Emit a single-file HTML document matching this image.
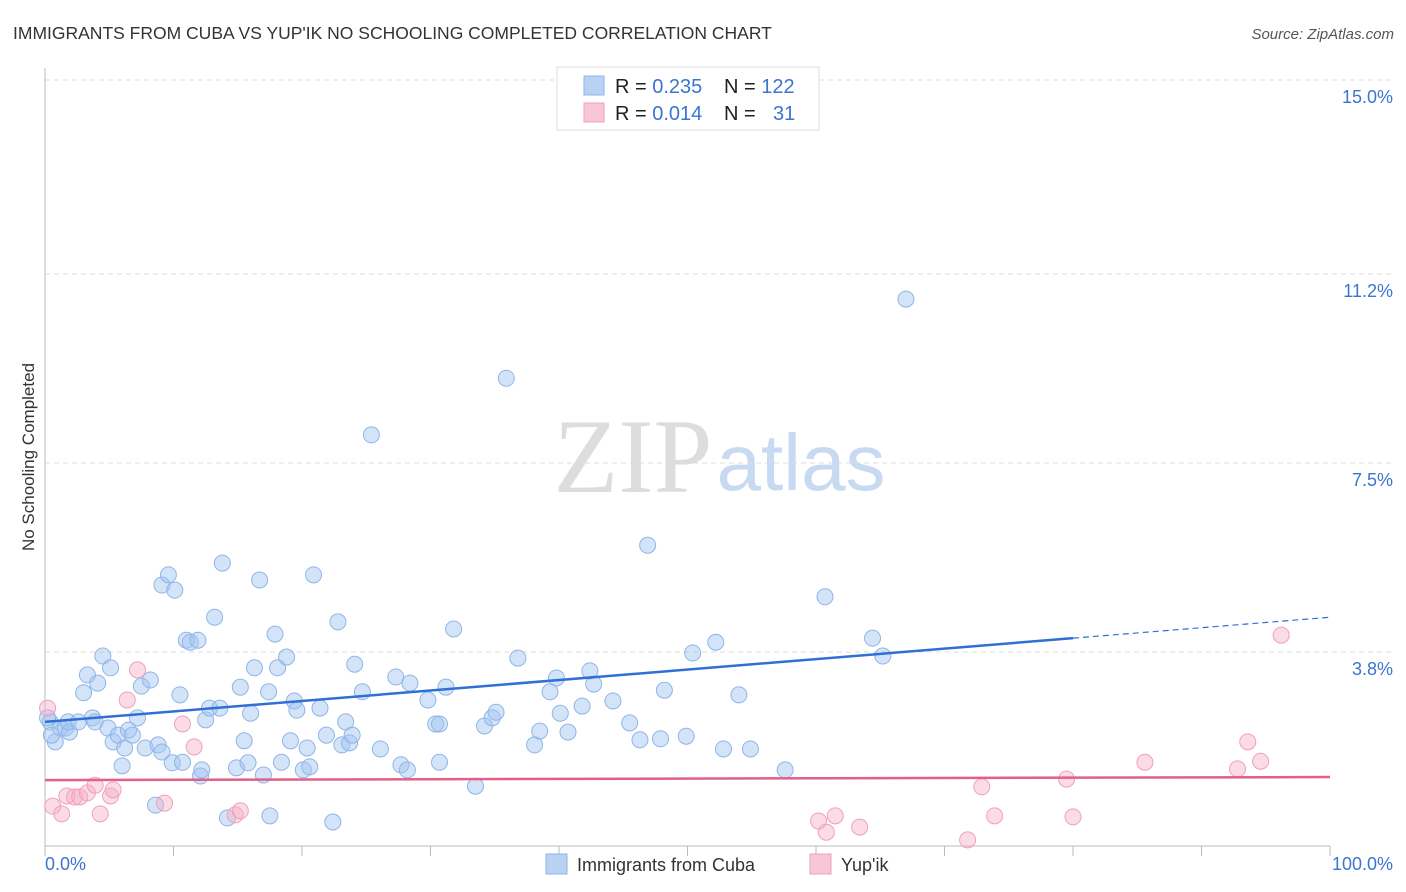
<!DOCTYPE html>
<html><head><meta charset="utf-8"><style>
body{margin:0;background:#fff;font-family:"Liberation Sans",sans-serif;}
svg{display:block}
</style></head><body>
<svg id="chart" width="1406" height="892">
<text x="13" y="39" font-size="17.5" fill="#333">IMMIGRANTS FROM CUBA VS YUP'IK NO SCHOOLING COMPLETED CORRELATION CHART</text>
<text x="1394" y="39" font-size="15" fill="#555" font-style="italic" text-anchor="end">Source: ZipAtlas.com</text>
<text transform="translate(34,457) rotate(-90)" font-size="17" fill="#333" text-anchor="middle">No Schooling Completed</text>
<g><text x="633" y="492" font-size="106" fill="#ddd" font-family="Liberation Serif,serif" text-anchor="middle">ZIP</text><text x="801" y="490" font-size="80" fill="#c8daf2" text-anchor="middle">atlas</text></g>
<g id="grid"></g><g id="axes"></g><g id="pts"></g><g id="trend"></g>
<g>
<rect x="557" y="67" width="262" height="63" fill="#fff" stroke="#ddd"/>
<rect x="584" y="76" width="20" height="19" fill="#b8d2f4" stroke="#8fb5e8"/>
<rect x="584" y="103" width="20" height="19" fill="#f8c6d4" stroke="#f0a0bb"/>
<text x="615" y="93" font-size="20" fill="#222">R = <tspan fill="#3a75d0">0.235</tspan><tspan x="724">N = </tspan><tspan fill="#3a75d0">122</tspan></text>
<text x="615" y="120" font-size="20" fill="#222">R = <tspan fill="#3a75d0">0.014</tspan><tspan x="724">N = </tspan><tspan x="773" fill="#3a75d0">31</tspan></text>
</g>
<g>
<rect x="546" y="854" width="21" height="20" fill="#b8d2f4" stroke="#8fb5e8"/>
<text x="577" y="871" font-size="18" fill="#333">Immigrants from Cuba</text>
<rect x="810" y="854" width="21" height="20" fill="#f8c6d4" stroke="#f0a0bb"/>
<text x="841" y="871" font-size="18" fill="#333">Yup'ik</text>
</g>
</svg>
<script>
const yTicks=[3.8,7.5,11.2,15.0];
const yTickLabels=["3.8%","7.5%","11.2%","15.0%"];
const xTickLabels=["0.0%","100.0%"];
const cubaX=[0.4,0.8,1.2,1.6,1.9,1.8,2.6,3.0,3.3,3.7,3.9,4.1,4.5,4.9,5.1,5.3,5.7,6.0,6.2,6.5,6.8,7.2,7.5,7.8,8.2,8.6,8.8,9.1,9.1,9.6,9.9,10.1,10.5,10.7,11.0,11.3,11.9,12.1,12.2,12.5,12.8,13.2,13.6,13.8,14.2,14.9,15.2,15.5,15.8,16.0,16.3,16.7,17.0,17.4,17.5,17.9,18.1,18.4,18.8,19.1,19.4,19.6,20.1,20.4,20.6,20.9,21.4,21.9,22.4,22.8,23.1,23.4,23.7,23.9,24.1,24.7,25.4,26.1,27.3,27.7,28.4,28.2,29.8,30.4,30.7,30.7,31.2,31.8,33.5,34.2,34.8,35.1,35.9,36.8,38.1,38.5,39.3,39.8,40.1,40.7,41.8,42.4,42.7,44.2,45.5,46.3,46.9,47.9,48.2,49.9,50.4,52.2,52.8,54.0,54.9,57.6,60.7,64.4,65.2,67.0,0.2,0.5];
const cubaY=[2.43,2.04,2.31,2.31,2.23,2.43,2.43,3.0,3.35,2.51,2.43,3.19,3.72,2.31,3.49,2.04,2.17,1.57,1.92,2.27,2.17,2.51,3.13,1.92,3.25,0.80,1.98,1.84,5.11,5.31,1.63,5.01,2.96,1.64,4.03,3.99,4.03,1.37,1.49,2.47,2.70,4.48,2.70,5.54,0.55,1.53,3.11,2.06,1.63,2.60,3.49,5.21,1.39,3.02,0.59,4.15,3.49,1.64,3.70,2.06,2.84,2.66,1.49,1.92,1.55,5.31,2.70,2.17,0.47,4.39,1.98,2.43,2.02,2.17,3.56,3.02,8.05,1.90,3.31,1.59,3.19,1.49,2.86,2.39,2.39,1.64,3.11,4.25,1.17,2.35,2.51,2.62,9.16,3.68,1.98,2.25,3.02,3.29,2.60,2.23,2.74,3.43,3.17,2.84,2.41,2.08,5.89,2.10,3.05,2.15,3.78,3.99,1.90,2.96,1.90,1.49,4.88,4.07,3.72,10.71,2.51,2.17];
const yupikX=[0.2,0.6,1.3,1.7,2.3,2.7,3.3,3.9,4.3,5.1,5.3,6.4,7.2,9.3,10.7,11.6,14.8,15.2,60.2,60.8,61.5,63.4,71.8,72.9,73.9,79.5,80.0,85.6,92.8,93.6,94.6,96.2];
const yupikY=[2.70,0.78,0.63,0.98,0.96,0.96,1.04,1.19,0.63,0.98,1.10,2.86,3.45,0.84,2.39,1.94,0.61,0.69,0.49,0.27,0.59,0.37,0.12,1.16,0.59,1.31,0.57,1.64,1.51,2.04,1.66,4.13];
const cubaTrend=[2.43,0.0205];
const yupikTrend=[1.29,0.0006];
const NS="http://www.w3.org/2000/svg";
const X0=45,X1=1330,Y0=846,Ytop=80;
const sx=v=>X0+(X1-X0)*v/100;
const sy=v=>Y0-(Y0-Ytop)*v/15;
function mk(tag,attrs,parent){const e=document.createElementNS(NS,tag);for(const k in attrs)e.setAttribute(k,attrs[k]);document.getElementById(parent).appendChild(e);return e;}
yTicks.forEach((t,i)=>{
 const g=mk('line',{x1:X0,x2:1394,y1:sy(t),y2:sy(t),stroke:'#ddd','stroke-dasharray':'5,4'},'grid');
 
 
 const l=mk('text',{x:1393,y:sy(t)+23,'font-size':18,fill:'#3a75d0','text-anchor':'end'},'axes');
 l.textContent=yTickLabels[i];
 
 
});
const ya=mk('line',{x1:X0,x2:X0,y1:68,y2:Y0,stroke:'#bbb'},'axes');


const xa=mk('line',{x1:X0,x2:X1,y1:Y0,y2:Y0,stroke:'#bbb'},'axes');


for(let i=0;i<=10;i++){const t=mk('line',{x1:sx(i*10),x2:sx(i*10),y1:Y0,y2:Y0+10,stroke:'#bbb'},'axes');
 
 }
[[0,'start',45],[100,'end',1393]].forEach((d,i)=>{const l=mk('text',{x:d[2],y:870,'font-size':18,fill:'#3a75d0','text-anchor':d[1]},'axes');l.textContent=xTickLabels[i];
 
 });
function pts(xs,ys,fill,stroke,name){xs.forEach((x,i)=>{const c=mk('circle',{cx:sx(x),cy:sy(ys[i]),r:8,fill:fill,stroke:stroke,'stroke-width':1},'pts');
 
 });}
pts(cubaX,cubaY,'rgba(160,195,240,0.45)','#8fb5e8','cuba-point');
pts(yupikX,yupikY,'rgba(245,175,200,0.45)','#f0a0bb','yupik-point');
const f=(tr,x)=>tr[0]+tr[1]*x;
const t1=mk('line',{x1:sx(0),y1:sy(f(cubaTrend,0)),x2:sx(80),y2:sy(f(cubaTrend,80)),stroke:'#2f6fd6','stroke-width':2.5},'trend');


const t2=mk('line',{x1:sx(80),y1:sy(f(cubaTrend,80)),x2:sx(100),y2:sy(f(cubaTrend,100)),stroke:'#2f6fd6','stroke-width':1.2,'stroke-dasharray':'6,4'},'trend');


const t3=mk('line',{x1:sx(0),y1:sy(f(yupikTrend,0)),x2:sx(100),y2:sy(f(yupikTrend,100)),stroke:'#e0608a','stroke-width':2.5},'trend');


</script>
</body></html>
